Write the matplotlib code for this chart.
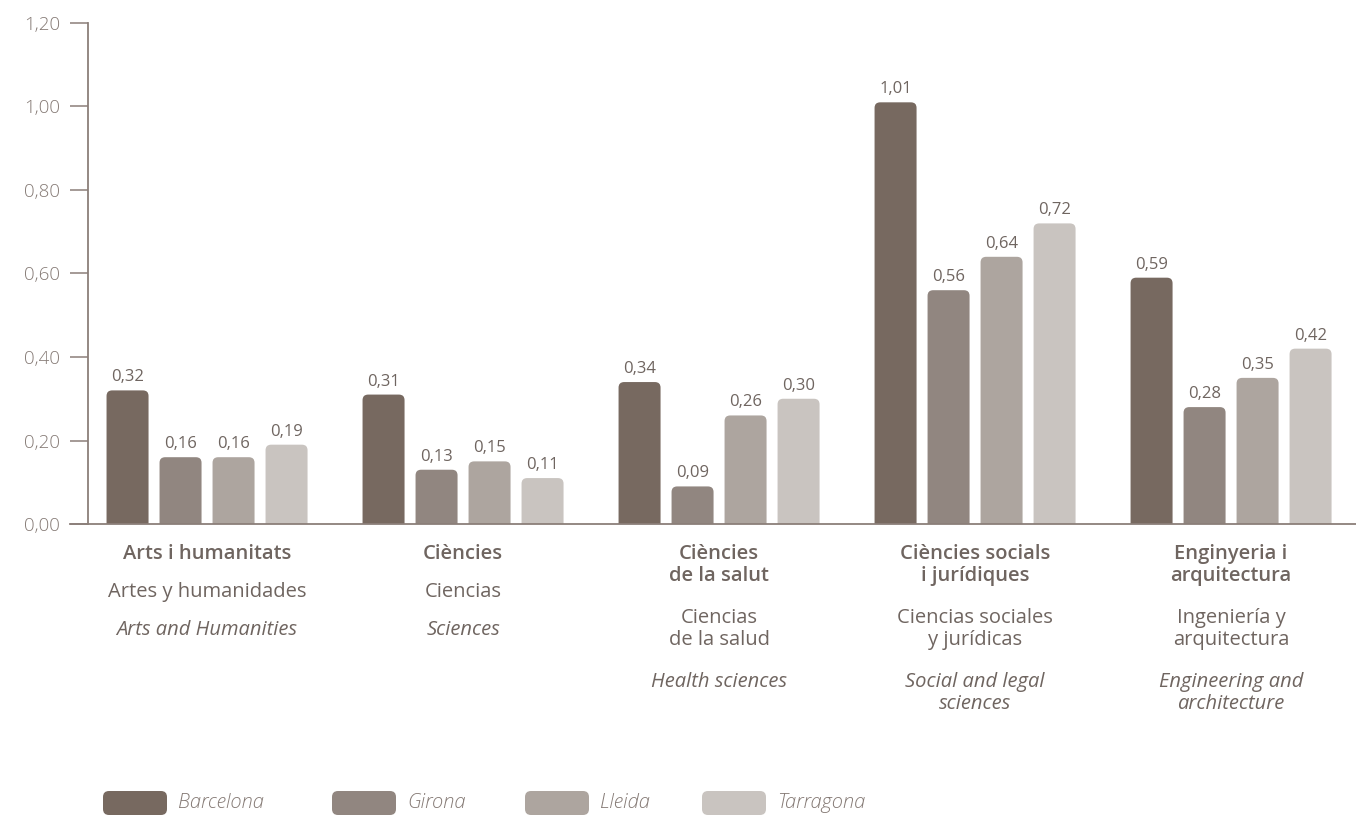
import matplotlib
matplotlib.use("Agg")
import matplotlib.pyplot as plt
from matplotlib.patches import FancyBboxPatch
from matplotlib.transforms import IdentityTransform
import numpy as np

plt.rcParams['font.family'] = ['Open Sans', 'DejaVu Sans']

# categories in three languages
cat_ca = ["Arts i humanitats", "Ciències", "Ciències\nde la salut",
          "Ciències socials\ni jurídiques", "Enginyeria i\narquitectura"]
cat_es = ["Artes y humanidades", "Ciencias", "Ciencias\nde la salud",
          "Ciencias sociales\ny jurídicas", "Ingeniería y\narquitectura"]
cat_en = ["Arts and Humanities", "Sciences", "Health sciences",
          "Social and legal\nsciences", "Engineering and\narchitecture"]

series = ["Barcelona", "Girona", "Lleida", "Tarragona"]
barcelona = [0.32, 0.31, 0.34, 1.01, 0.59]
girona = [0.16, 0.13, 0.09, 0.56, 0.28]
lleida = [0.16, 0.15, 0.26, 0.64, 0.35]
tarragona = [0.19, 0.11, 0.30, 0.72, 0.42]
values = [barcelona, girona, lleida, tarragona]

yticks = [0.0, 0.2, 0.4, 0.6, 0.8, 1.0, 1.2]

colors = ["#776960", "#918680", "#ada59f", "#c9c4c0"]
txt = "#6f6560"
axis_col = "#8b7f79"

W, H = 1356, 816
fig = plt.figure(figsize=(W / 100, H / 100), dpi=100)
ax = fig.add_axes([88 / W, 292 / H, 1 - 88 / W, 501 / H])
ax.set_xlim(-0.465, 4.488)
ax.set_ylim(0, 1.2)

x = np.arange(len(cat_ca))
pitch = 53 / 256
width = 42 / 256
rnd = 0.022
asp = (5.6 / 419) / rnd

for k, (vals, c) in enumerate(zip(values, colors)):
    offs = (k - 1.5) * pitch
    for xi, v in zip(x, vals):
        x0 = xi + offs - width / 2
        ax.add_patch(FancyBboxPatch((x0, -0.03), width, v + 0.03,
                                    boxstyle=f"round,pad=0,rounding_size={rnd}",
                                    mutation_aspect=asp, fc=c, ec="none"))
        ax.annotate(f"{v:.2f}".replace(".", ","), (xi + offs, v),
                    xytext=(0, 5), textcoords="offset pixels",
                    ha="center", va="bottom", fontsize=12, color=txt)

# axes styling
for s in ["top", "right"]:
    ax.spines[s].set_visible(False)
ax.spines["left"].set_color(axis_col)
ax.spines["bottom"].set_color(axis_col)
ax.spines["left"].set_linewidth(1.3)
ax.spines["bottom"].set_linewidth(1.3)
ax.spines["bottom"].set_bounds(-0.465 - 18 / 256, 4.488)
ax.spines["bottom"].set_clip_on(False)
ax.set_yticks(yticks)
ax.set_yticklabels([f"{t:.2f}".replace(".", ",") for t in yticks])
ax.tick_params(axis="y", length=13, width=1.1, color=axis_col, pad=7,
               labelsize=13.5, labelcolor="#857a75")
ax.set_xticks([])
for lab in ax.get_yticklabels():
    lab.set_fontweight("light")

# category labels below the axis
line_h = 22
for xi, ca, es, en in zip(x, cat_ca, cat_es, cat_en):
    y = 30
    blocks = [(ca, "semibold", "normal"), (es, "normal", "normal"), (en, "normal", "italic")]
    for text, wt, st in blocks:
        lines = text.split("\n")
        for j, ln in enumerate(lines):
            ax.annotate(ln, (xi, 0), xycoords=("data", "axes fraction"),
                        xytext=(0, -(y + j * line_h)), textcoords="offset pixels",
                        ha="center", va="center", fontsize=14.5, color=txt,
                        fontweight=wt, fontstyle=st, annotation_clip=False)
        y += (len(lines) - 1) * line_h + 38 + 4 * (len(lines) - 1)

# legend
box_x = [103, 332, 525, 702]
for bx, name, c in zip(box_x, series, colors):
    fig.add_artist(FancyBboxPatch((bx, H - 815), 64, 24,
                                  boxstyle="round,pad=0,rounding_size=6",
                                  transform=IdentityTransform(),
                                  fc=c, ec="none"))
    fig.text((bx + 75) / W, (H - 803) / H, name, ha="left", va="center",
             fontsize=14.5, fontstyle="italic", fontweight="light", color="#857a75")

fig.savefig("out.png", dpi=100)
